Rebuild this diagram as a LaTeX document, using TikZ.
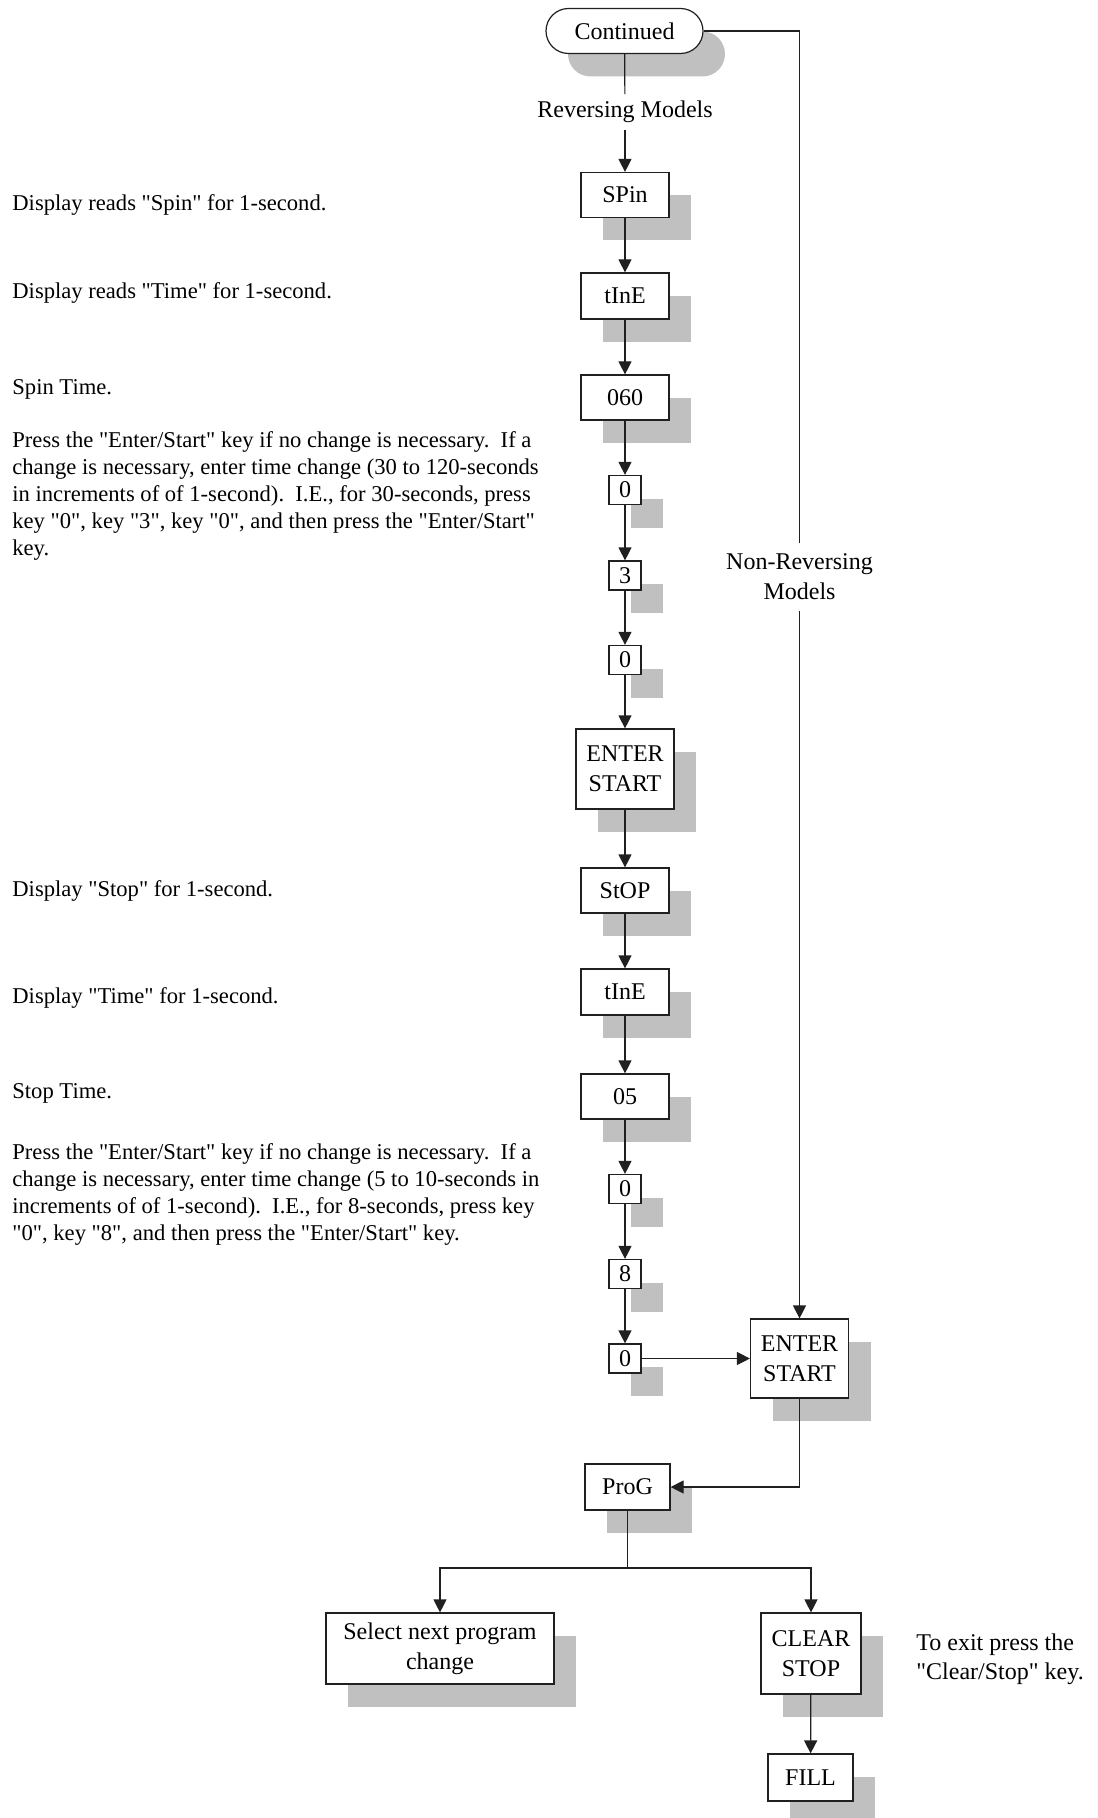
\documentclass[tikz,border=0pt]{standalone}
\usepackage{fontspec}
\setmainfont{Liberation Serif}[Ligatures=TeXOff]
\usetikzlibrary{arrows.meta,shadows,shapes.misc}
\definecolor{shadowgray}{HTML}{C0C0C0}
\definecolor{linecol}{HTML}{202020}
\begin{document}
\begin{tikzpicture}[x=0.5pt,y=-0.5pt,
  every node/.style={font=\fontsize{12}{15}\selectfont},
  shd/.style={drop shadow={shadow xshift=11pt,shadow yshift=-11.5pt,fill=shadowgray,opacity=1}},
  box/.style={draw=linecol,fill=white,shd,rectangle,inner sep=0pt,line width=0.6pt,align=center,
    minimum width=44pt,minimum height=22.5pt},
  keybox/.style={box,minimum width=16pt,minimum height=14.5pt},
  bigbox/.style={box,minimum width=49pt,minimum height=40pt},
  term/.style={draw=linecol,fill=white,shd,rounded rectangle,inner sep=0pt,line width=0.6pt,
    minimum width=78.5pt,minimum height=22.5pt},
  lbl/.style={inner sep=0pt,align=center},
  note/.style={inner sep=0pt,align=left,font=\fontsize{11.3}{13.5}\selectfont},
  conn/.style={draw=linecol,line width=0.6pt},
  arr/.style={conn,-{Triangle[length=6.5pt,width=6.5pt]}}
]
\useasboundingbox (0,0) rectangle (1097,1818);

% main column
\node[term] (cont) at (624.5,31) {Continued};
\node[lbl,minimum height=17.5pt] (rev) at (625,112) {Reversing Models};
\node[box] (spin) at (625,195) {SPin};
\node[box,minimum height=23pt] (tine1) at (625,296) {tInE};
\node[box] (t060) at (625,397.5) {060};
\node[keybox] (k0a) at (625,490) {0};
\node[keybox] (k3) at (625,575.5) {3};
\node[keybox] (k0b) at (625,660) {0};
\node[bigbox] (ent1) at (625,769) {ENTER\\START};
\node[box] (stop) at (625,890.5) {StOP};
\node[box,minimum height=23pt] (tine2) at (625,992) {tInE};
\node[box] (t05) at (625,1096.5) {05};
\node[keybox] (k0c) at (625,1189) {0};
\node[keybox] (k8) at (625,1274) {8};
\node[keybox] (k0d) at (625,1358.5) {0};

% right branch
\node[lbl,minimum height=33.5pt] (nonrev) at (799.5,577) {Non-Reversing\\Models};
\node[bigbox,minimum height=39.5pt] (ent2) at (799.5,1358.5) {ENTER\\START};

% bottom
\node[box,minimum width=42.5pt,minimum height=23pt] (prog) at (627.5,1487) {ProG};
\coordinate (br) at (627.5,1568);
\node[box,minimum width=114pt,minimum height=35.5pt] (sel) at (440,1648.5) {Select next program\\change};
\node[box,minimum width=50pt,minimum height=40.5pt] (clr) at (811,1653.5) {CLEAR\\STOP};
\node[box,minimum width=42.5pt,minimum height=23.5pt] (fill) at (810.5,1777.5) {FILL};
\node[lbl,align=left,anchor=west,font=\fontsize{12}{14.5}\selectfont] (exit) at (916,1659) {To exit press the\\"Clear/Stop" key.};

% left notes
\node[note,anchor=west] (n1) at (12,205) {Display reads "Spin" for 1-second.};
\node[note,anchor=west] (n2) at (12,293) {Display reads "Time" for 1-second.};
\node[note,anchor=west] (n3) at (12,389) {Spin Time.};
\node[note,anchor=north west] (n4) at (12,431) {Press the "Enter/Start" key if no change is necessary.\ \ If a\\
change is necessary, enter time change (30 to 120-seconds\\
in increments of of 1-second).\ \ I.E., for 30-seconds, press\\
key "0", key "3", key "0", and then press the "Enter/Start"\\
key.};
\node[note,anchor=west] (n5) at (12,891) {Display "Stop" for 1-second.};
\node[note,anchor=west] (n6) at (12,998) {Display "Time" for 1-second.};
\node[note,anchor=west] (n7) at (12,1093) {Stop Time.};
\node[note,anchor=north west] (n8) at (12,1143) {Press the "Enter/Start" key if no change is necessary.\ \ If a\\
change is necessary, enter time change (5 to 10-seconds in\\
increments of of 1-second).\ \ I.E., for 8-seconds, press key\\
"0", key "8", and then press the "Enter/Start" key.};

% connectors
\draw[conn] (cont) -- (rev);
\draw[arr] (rev) -- (spin);
\draw[arr] (spin) -- (tine1);
\draw[arr] (tine1) -- (t060);
\draw[arr] (t060) -- (k0a);
\draw[arr] (k0a) -- (k3);
\draw[arr] (k3) -- (k0b);
\draw[arr] (k0b) -- (ent1);
\draw[arr] (ent1) -- (stop);
\draw[arr] (stop) -- (tine2);
\draw[arr] (tine2) -- (t05);
\draw[arr] (t05) -- (k0c);
\draw[arr] (k0c) -- (k8);
\draw[arr] (k8) -- (k0d);
\draw[arr] (k0d) -- (ent2);
\draw[conn] (cont.east) -| (nonrev.north);
\draw[arr] (nonrev) -- (ent2);
\draw[arr] (ent2.south) |- (prog.east);
\draw[conn] (prog.south) -- (br);
\draw[arr] (br) -| (sel.north);
\draw[arr] (br) -| (clr.north);
\draw[arr] (clr) -- (fill);
\end{tikzpicture}
\end{document}
